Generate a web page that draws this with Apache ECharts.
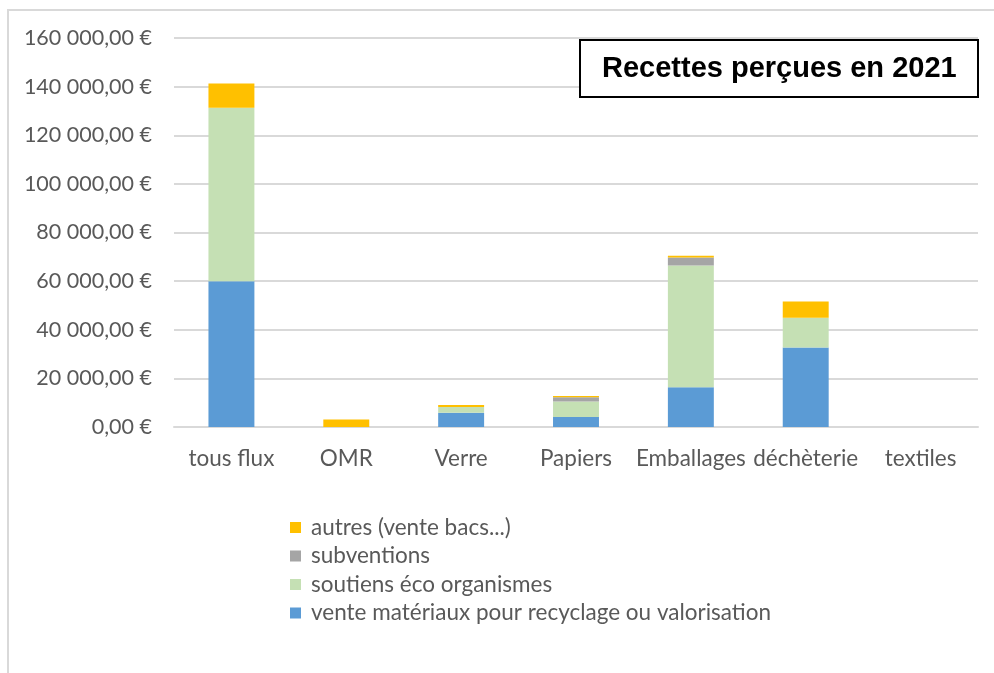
<!DOCTYPE html>
<html style="height: 100%">
<head>
    <meta charset="utf-8">
    <title>Recettes perçues en 2021</title>
    <script src="https://cdn.jsdelivr.net/npm/echarts@6/dist/echarts.min.js"></script>
</head>
<body style="height: 100%; margin: 0; background: #fff">
    <div id="main" style="width: 994px; height: 673px"></div>
    <script type="text/javascript">
        var myChart = echarts.init(document.getElementById('main'));

        // catégories (axe x)
        var categories = ['tous flux', 'OMR', 'Verre', 'Papiers', 'Emballages', 'déchèterie', 'textiles'];

        // valeurs (en €)
        var venteMateriaux = [60000, 0, 5900, 4100, 16300, 32700, 0];
        var soutiensEco = [71300, 0, 2300, 6350, 50100, 12200, 0];
        var subventions = [0, 0, 0, 1750, 3300, 0, 0];
        var autres = [10000, 3050, 800, 550, 700, 6700, 0];

        var seriesNames = [
            'vente matériaux pour recyclage ou valorisation',
            'soutiens éco organismes',
            'subventions',
            'autres (vente bacs...)'
        ];
        var seriesData = [venteMateriaux, soutiensEco, subventions, autres];
        var colors = ['#5b9bd5', '#c5e0b4', '#a5a5a5', '#ffc000'];

        var yTicks = { min: 0, max: 160000, interval: 20000 };

        var font = 'Lato, "Noto Sans", sans-serif';
        var textColor = '#595959';

        function euro(v) {
            var s = String(Math.round(v)).replace(/\B(?=(\d{3})+(?!\d))/g, '\u00a0');
            return s + ',00\u00a0€';
        }

        var series = seriesNames.map(function (name, i) {
            return {
                name: name,
                type: 'bar',
                stack: 'total',
                barWidth: '40%',
                itemStyle: { color: colors[i] },
                data: seriesData[i]
            };
        });

        var option = {
            animation: false,
            backgroundColor: '#fff',
            color: colors,
            title: {
                text: 'Recettes perçues en 2021',
                left: 580,
                top: 40,
                padding: [14, 22],
                borderColor: '#000',
                borderWidth: 2,
                backgroundColor: '#fff',
                textStyle: {
                    fontFamily: '"Liberation Sans", Arial, sans-serif',
                    fontWeight: 'bold',
                    fontSize: 29,
                    color: '#000'
                }
            },
            legend: {
                orient: 'vertical',
                left: 285,
                top: 511,
                itemWidth: 11,
                itemHeight: 11,
                itemGap: 5.5,
                icon: 'rect',
                data: seriesNames.slice().reverse(),
                textStyle: { fontFamily: font, fontSize: 22.5, color: textColor, padding: [0, 0, 0, 5] }
            },
            graphic: [{
                type: 'rect',
                shape: { x: 8, y: 10, width: 1100, height: 800 },
                style: { fill: 'none', stroke: '#d9d9d9', lineWidth: 2 },
                silent: true
            }],
            grid: {
                left: 174,
                right: 16,
                top: 38,
                bottom: 246
            },
            xAxis: {
                type: 'category',
                data: categories,
                axisTick: { show: false },
                axisLine: { lineStyle: { color: '#d9d9d9', width: 2 } },
                axisLabel: { fontFamily: font, fontSize: 22.5, color: textColor, margin: 20, interval: 0 }
            },
            yAxis: {
                type: 'value',
                min: yTicks.min,
                max: yTicks.max,
                interval: yTicks.interval,
                axisLine: { show: false },
                axisTick: { show: false },
                splitLine: { lineStyle: { color: '#d9d9d9', width: 2 } },
                axisLabel: {
                    fontFamily: font, fontSize: 21.5, color: textColor, margin: 22,
                    formatter: euro
                }
            },
            series: series
        };

        myChart.setOption(option);
    </script>
</body>
</html>
